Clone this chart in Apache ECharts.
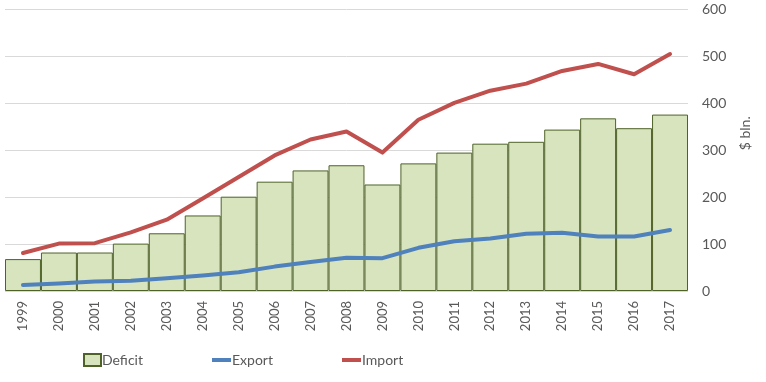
<!DOCTYPE html>
<html><head><meta charset="utf-8">
<script src="https://cdn.jsdelivr.net/npm/echarts@6/dist/echarts.min.js"></script>
<style>html,body{margin:0;padding:0;background:#fff}#c{width:766px;height:382px}</style>
</head><body><div id="c"></div>
<script>
const years = ['1999','2000','2001','2002','2003','2004','2005','2006','2007','2008','2009','2010','2011','2012','2013','2014','2015','2016','2017'];
const deficit = [68, 82, 82, 101, 123, 161, 201, 233, 257, 268, 227, 272, 295, 314, 318, 344, 368, 347, 376];
const exportVals = [13, 16, 20, 22, 27, 33, 40, 52, 62, 71, 70, 92, 106, 112, 122, 124, 116, 116, 130];
const importVals = [81, 101, 102, 125, 152, 197, 243, 289, 323, 340, 295, 365, 401, 427, 442, 469, 484, 462, 505];
const yTicks = [0, 100, 200, 300, 400, 500, 600];

const FONT = 'Lato, "Open Sans", sans-serif';
const legText = {fontFamily: FONT, fontSize: 14, color: '#595959', padding: [0,0,0,-4]};
const chart = echarts.init(document.getElementById('c'));
chart.setOption({
  animation: false,
  textStyle: {fontFamily: FONT, color: '#595959'},
  grid: {left: 5, right: 78, top: 9.5, bottom: 91},
  legend: [
    {data: [{name: 'Deficit', icon: 'rect'}], left: 83, top: 353, padding: 0, itemWidth: 17, itemHeight: 12, textStyle: legText},
    {data: [{name: 'Export', icon: 'rect'}], left: 212, top: 353, padding: 0, itemWidth: 19, itemHeight: 4, textStyle: legText},
    {data: [{name: 'Import', icon: 'rect'}], left: 342, top: 353, padding: 0, itemWidth: 19, itemHeight: 4, textStyle: legText}
  ],
  xAxis: {
    type: 'category', data: years,
    axisLine: {show: false}, axisTick: {show: false},
    axisLabel: {rotate: 90, fontSize: 13, color: '#595959', margin: 10, fontFamily: FONT}
  },
  yAxis: {
    type: 'value', position: 'right', min: 0, max: 600, interval: 100,
    axisLine: {show: false}, axisTick: {show: false},
    splitLine: {lineStyle: {color: '#D9D9D9', width: 1}},
    axisLabel: {fontSize: 14, color: '#595959', margin: 14, fontFamily: FONT,
      formatter: v => yTicks.includes(v) ? String(v) : ''},
    name: '$ bln.', nameLocation: 'middle', nameRotate: 90, nameGap: 50,
    nameTextStyle: {fontSize: 14, color: '#595959', fontFamily: FONT, padding: [0, 0, 0, 34]}
  },
  series: [
    {name: 'Deficit', type: 'bar', data: deficit, barCategoryGap: '0%',
     itemStyle: {color: '#D7E4BD', borderColor: '#4F6228', borderWidth: 1}},
    {name: 'Export', type: 'line', data: exportVals, showSymbol: false, symbol: 'none',
     lineStyle: {color: '#4F81BD', width: 4, cap: 'round', join: 'round'}, itemStyle: {color: '#4F81BD'}},
    {name: 'Import', type: 'line', data: importVals, showSymbol: false, symbol: 'none',
     lineStyle: {color: '#C0504D', width: 4, cap: 'round', join: 'round'}, itemStyle: {color: '#C0504D'}}
  ]
});
</script></body></html>
